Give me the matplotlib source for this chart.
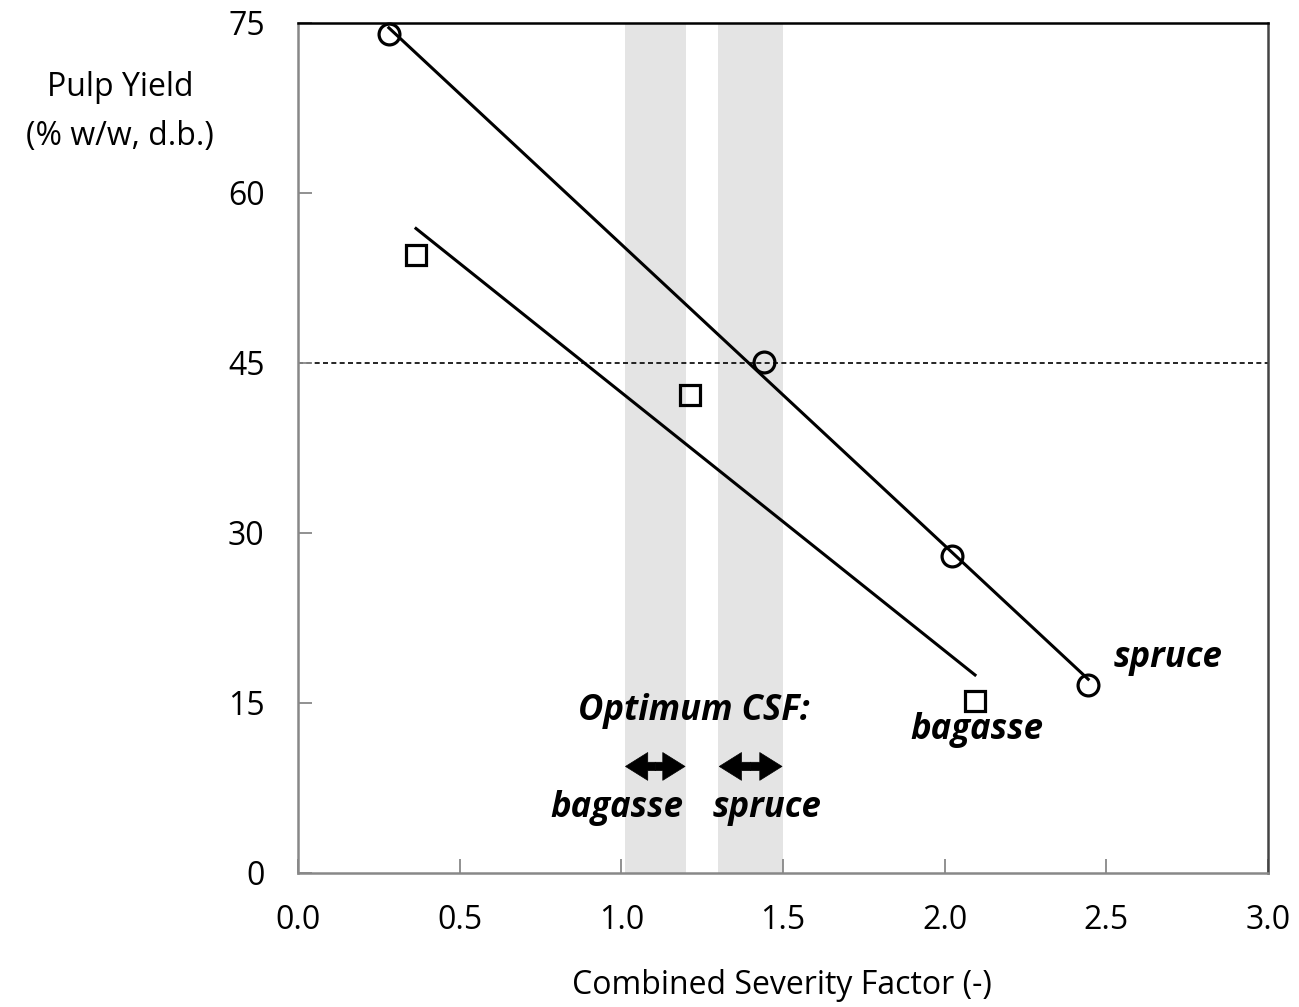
import numpy as np
import matplotlib
matplotlib.use("Agg")
import matplotlib.pyplot as plt

plt.rcParams['font.family'] = ['Open Sans', 'DejaVu Sans']

# Data
spruce_x = [0.281, 1.441, 2.023, 2.444]
spruce_y = [74.0, 45.1, 28.0, 16.6]
bagasse_x = [0.365, 1.212, 2.094]
bagasse_y = [54.5, 42.2, 15.2]
band_bagasse = (1.01, 1.20)
band_spruce = (1.30, 1.50)
threshold = 45
xticks = [0.0, 0.5, 1.0, 1.5, 2.0, 2.5, 3.0]
yticks = [0, 15, 30, 45, 60, 75]

fig = plt.figure(figsize=(12.99, 10.07), dpi=100)
ax = fig.add_axes([0.2294, 0.1331, 0.9761 - 0.2294, 0.9772 - 0.1331])
ax.set_xlim(0, 3)
ax.set_ylim(0, 75)

# bands
ax.axvspan(*band_bagasse, color='#e4e4e4', lw=0, zorder=0)
ax.axvspan(*band_spruce, color='#e4e4e4', lw=0, zorder=0)

# threshold line
ax.axhline(threshold, color='black', lw=1.2, ls=(0, (3, 2)), zorder=1)

# regression lines
for xs, ys in [(spruce_x, spruce_y), (bagasse_x, bagasse_y)]:
    xs = np.array(xs); ys = np.array(ys)
    m, b = np.polyfit(xs, ys, 1)
    xx = np.array([xs.min(), xs.max()])
    ax.plot(xx, m * xx + b, color='black', lw=2.2, zorder=2)

ax.plot(spruce_x, spruce_y, 'o', ms=15, mfc='none', mec='black', mew=2.3, zorder=3, clip_on=False)
ax.plot(bagasse_x, bagasse_y, 's', ms=14, mfc='none', mec='black', mew=2.3, zorder=3, clip_on=False)

# double arrows: two filled arrows from the band centre outwards
arrow_y = 9.4
for lo, hi in [band_bagasse, band_spruce]:
    mid = (lo + hi) / 2
    for end in (lo + 0.003, hi - 0.003):
        ax.annotate('', xy=(end, arrow_y), xytext=(mid, arrow_y),
                    arrowprops=dict(arrowstyle='simple,head_length=1.6,head_width=2.0,tail_width=0.6',
                                    mutation_scale=10, fc='black', ec='black', lw=0.5,
                                    shrinkA=0, shrinkB=0))

tkw = dict(fontsize=25, fontweight='bold', fontstyle='italic', color='black')
ax.text(1.225, 14.3, 'Optimum CSF:', ha='center', va='center', **tkw)
ax.text(0.985, 5.7, 'bagasse', ha='center', va='center', **tkw)
ax.text(1.45, 5.7, 'spruce', ha='center', va='center', **tkw)
ax.text(2.69, 19.0, 'spruce', ha='center', va='center', **tkw)
ax.text(2.1, 12.6, 'bagasse', ha='center', va='center', **tkw)

ax.set_xticks(xticks)
ax.set_xticklabels([f'{v:.1f}' for v in xticks])
ax.set_yticks(yticks)
ax.set_yticklabels([str(v) for v in yticks])
ax.tick_params(axis='both', direction='in', length=10, width=1.3, color='#888888',
               labelsize=23, colors='black')
ax.tick_params(axis='both', color='#888888')
ax.tick_params(axis='x', pad=22)
ax.tick_params(axis='y', pad=24)
for t in ax.get_yticklabels() + ax.get_xticklabels():
    t.set_color('black')

ax.spines['left'].set_color('#888888')
ax.spines['bottom'].set_color('#888888')
ax.spines['left'].set_linewidth(1.8)
ax.spines['bottom'].set_linewidth(1.8)
ax.spines['top'].set_color('black')
ax.spines['right'].set_color('#444444')
ax.spines['top'].set_linewidth(1.8)
ax.spines['right'].set_linewidth(1.8)

fig.text(782 / 1299, 1 - 985 / 1007, 'Combined Severity Factor (-)', ha='center', va='center', fontsize=23)
fig.text(120 / 1299, 1 - 88 / 1007, 'Pulp Yield', ha='center', va='center', fontsize=23)
fig.text(120 / 1299, 1 - 137 / 1007, '(% w/w, d.b.)', ha='center', va='center', fontsize=23)

fig.savefig('out.png', dpi=100)
